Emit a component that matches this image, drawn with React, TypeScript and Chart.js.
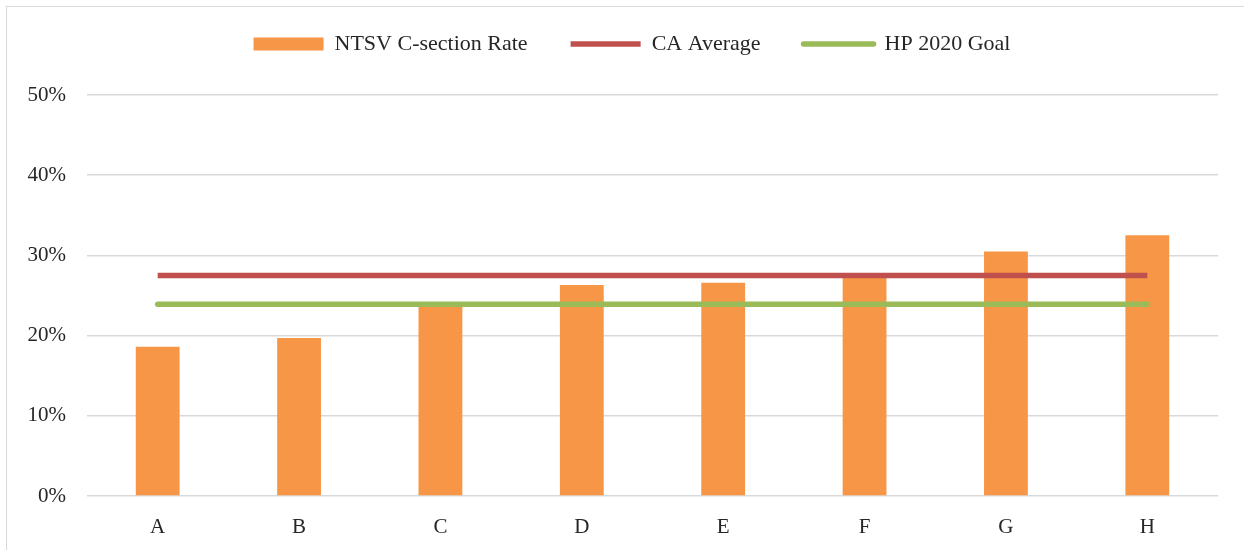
import React, { useEffect, useRef } from "react";
import { Chart, registerables } from "chart.js";

Chart.register(...registerables);

const categories = ["A", "B", "C", "D", "E", "F", "G", "H"];
const ntsvRate = [18.6, 19.7, 24.0, 26.3, 26.6, 27.6, 30.5, 32.5];
const caAverage = [27.5, 27.5, 27.5, 27.5, 27.5, 27.5, 27.5, 27.5];
const hpGoal = [23.9, 23.9, 23.9, 23.9, 23.9, 23.9, 23.9, 23.9];
const yTicks = [0, 10, 20, 30, 40, 50];

const ORANGE = "#F79646";
const RED = "#C0504D";
const GREEN = "#9BBB59";
const TEXT = "#262626";
const FONT = "'Liberation Serif', 'Times New Roman', serif";

const legendSpacer = {
  id: "legendSpacer",
  beforeInit(chart: any) {
    const legend = chart.legend;
    if (!legend) return;
    const origFit = legend.fit.bind(legend);
    legend.fit = function () {
      origFit();
      this.height = 105;
    };
    const origDraw = legend.draw.bind(legend);
    legend.draw = function () {
      const ctx = chart.ctx;
      ctx.save();
      ctx.translate(23, 0);
      origDraw();
      ctx.restore();
    };
  },
};

export default function App() {
  const ref = useRef<HTMLCanvasElement | null>(null);

  useEffect(() => {
    if (!ref.current) return;
    const colors = [ORANGE, RED, GREEN];
    const chart = new Chart(ref.current, {
      type: "bar",
      data: {
        labels: categories,
        datasets: [
          {
            type: "bar",
            label: "NTSV C-section Rate",
            data: ntsvRate,
            backgroundColor: ORANGE,
            categoryPercentage: 1,
            barPercentage: 0.31,
            order: 2,
          } as any,
          {
            type: "line",
            label: "CA Average",
            data: caAverage,
            borderColor: RED,
            backgroundColor: RED,
            borderWidth: 5.5,
            pointRadius: 0,
            borderCapStyle: "butt",
            order: 0,
          },
          {
            type: "line",
            label: "HP 2020 Goal",
            data: hpGoal,
            borderColor: GREEN,
            backgroundColor: GREEN,
            borderWidth: 5.5,
            pointRadius: 0,
            borderCapStyle: "round",
            order: 1,
          },
        ],
      },
      options: {
        responsive: false,
        animation: false,
        layout: { padding: { left: 0, right: 26, top: 0, bottom: 0 } },
        plugins: {
          tooltip: { enabled: false },
          legend: {
            position: "top",
            labels: {
              usePointStyle: true,
              pointStyleWidth: 70,
              boxHeight: 13,
              padding: 43,
              color: TEXT,
              font: { family: FONT, size: 22 },
              generateLabels: (c: any) =>
                c.data.datasets.map((ds: any, i: number) => ({
                  text: ds.label,
                  datasetIndex: i,
                  fillStyle: colors[i],
                  strokeStyle: colors[i],
                  lineWidth: i === 0 ? 0 : 5.5,
                  lineCap: i === 2 ? "round" : "butt",
                  pointStyle: i === 0 ? "rect" : "line",
                  hidden: false,
                  fontColor: TEXT,
                })),
            },
          },
        },
        scales: {
          x: {
            grid: { display: false },
            border: { display: false },
            ticks: {
              color: TEXT,
              font: { family: FONT, size: 21 },
              padding: 11,
            },
            afterFit: (s: any) => {
              s.height = 54;
            },
          },
          y: {
            min: 0,
            max: 50,
            afterBuildTicks: (s: any) => {
              s.ticks = yTicks.map((v) => ({ value: v }));
            },
            grid: { color: "#D9D9D9", lineWidth: 1.5, drawTicks: false },
            border: { display: false },
            ticks: {
              color: TEXT,
              font: { family: FONT, size: 21 },
              padding: 21,
              callback: (v: any) => v + "%",
            },
            afterFit: (s: any) => {
              s.width = 87;
            },
          },
        },
      },
      plugins: [legendSpacer],
    });
    return () => chart.destroy();
  }, []);

  return (
    <div
      style={{
        position: "fixed",
        left: 0,
        top: 0,
        width: 1244,
        height: 550,
        background: "#fff",
        overflow: "hidden",
      }}
    >
      <div
        style={{
          position: "absolute",
          left: 6,
          top: 6,
          width: 1300,
          height: 600,
          border: "1.5px solid #D9D9D9",
        }}
      />
      <canvas
        ref={ref}
        width={1244}
        height={560}
        style={{ position: "absolute", left: 0, top: -10 }}
      />
    </div>
  );
}
